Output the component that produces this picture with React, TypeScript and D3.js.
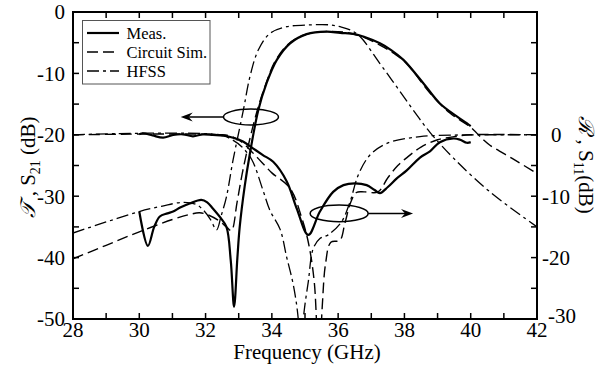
import React from "react";
import * as d3 from "d3";

// ---------- data (frequency GHz, dB) ----------
// Transmission S21 (left axis)
const measS21: [number, number][] = [
  [30.0, -32.5], [30.26, -38.1], [30.45, -35.0], [30.62, -33.3], [30.85, -32.8], [31.02, -32.5],
  [31.25, -31.8], [31.52, -31.2], [31.87, -30.6], [32.05, -31.0], [32.22, -32.0], [32.45, -33.5],
  [32.63, -35.0], [32.76, -40.5], [32.86, -48.0], [32.96, -40.0], [33.03, -35.0], [33.18, -28.4],
  [33.33, -23.3], [33.59, -16.0], [33.84, -11.6], [34.15, -7.8], [34.55, -5.1], [35.05, -3.6],
  [35.65, -3.2], [36.06, -3.4], [36.5, -3.6], [36.76, -4.0], [37.26, -5.1], [37.6, -6.2],
  [37.97, -7.8], [38.57, -11.6], [39.07, -14.9], [39.58, -17.0], [39.88, -18.1], [40.0, -18.6],
];
const circS21: [number, number][] = [
  [28, -40.2], [29, -38.0], [30, -35.8], [31, -33.8], [31.5, -33.0], [31.82, -32.7], [32.1, -33.1],
  [32.43, -34.1], [32.65, -35.1], [32.78, -35.6], [32.95, -31.0], [33.1, -26.5], [33.3, -21.5],
  [33.55, -16.2], [33.8, -12.0], [34.1, -8.0], [34.5, -5.2], [35.0, -3.7], [35.6, -3.2], [36.2, -3.3],
  [36.76, -4.1], [37.26, -5.4], [37.7, -6.8], [38.07, -8.4], [38.77, -13.2], [39.38, -16.5],
  [39.98, -18.7], [40.38, -20.8], [40.58, -21.7], [41.3, -24.0], [42, -26.3],
];
const hfssS21: [number, number][] = [
  [28, -36.0], [29, -34.2], [30, -32.5], [30.7, -31.6], [31.32, -31.0], [31.7, -31.3], [31.92, -32.2],
  [32.15, -33.8], [32.33, -35.5], [32.47, -33.2], [32.63, -30.1], [32.83, -24.1], [33.14, -16.0],
  [33.34, -10.5], [33.59, -6.2], [33.94, -3.5], [34.45, -2.4], [35.15, -2.1], [35.76, -2.1],
  [36.06, -2.4], [36.36, -2.9], [36.66, -4.0], [37.26, -8.4], [37.77, -12.2], [38.27, -16.0],
  [38.77, -19.6], [39.48, -23.8], [40.58, -29.3], [42, -35.0],
];
// Reflection S11 (right axis)
const measS11: [number, number][] = [
  [30.0, 0.1], [30.11, 0.25], [30.4, -0.1], [30.72, -0.47], [31.02, -0.03], [31.32, 0.08],
  [31.62, -0.25], [31.92, 0.08], [32.22, -0.03], [32.53, -0.14], [32.83, -0.47], [33.13, -1.1],
  [33.43, -2.2], [33.73, -3.3], [34.04, -4.4], [34.45, -7.6], [34.75, -12.0], [35.1, -16.3],
  [35.45, -12.5], [35.85, -9.3], [36.16, -8.2], [36.5, -7.9], [36.86, -8.2], [37.1, -9.0],
  [37.26, -9.5], [37.5, -8.5], [37.77, -7.1], [38.07, -5.8], [38.47, -3.7], [38.77, -2.7],
  [39.07, -1.2], [39.48, -0.6], [39.68, -0.8], [39.88, -1.3], [40.0, -1.2],
];
const circS11: [number, number][] = [
  [28, 0], [32.5, 0], [32.8, -0.3], [33.1, -1.2], [33.4, -2.8], [33.7, -4.5], [34.0, -6.2],
  [34.55, -8.7], [34.9, -13.5], [35.1, -17.5], [35.28, -24.0], [35.42, -38.0], [35.52, -28.0],
  [35.62, -21.0], [35.78, -17.5], [36.05, -17.2], [36.2, -14.5], [36.38, -11.0], [36.55, -9.4],
  [36.8, -9.3], [37.2, -9.3], [37.5, -7.0], [37.8, -5.0], [38.1, -3.6], [38.5, -2.0], [39.0, -0.8],
  [39.5, -0.3], [40.0, 0], [42, 0],
];
const hfssS11: [number, number][] = [
  [28, 0], [32.4, 0], [32.8, -0.8], [33.1, -2.0], [33.4, -4.1], [33.73, -9.0], [33.94, -12.3],
  [34.25, -15.4], [34.45, -20.0], [34.65, -24.5], [34.8, -30.2], [34.87, -40.0], [34.95, -30.0],
  [35.1, -23.9], [35.25, -18.5], [35.45, -16.9], [35.7, -16.3], [36.1, -14.2], [36.36, -10.9],
  [36.61, -6.5], [36.96, -3.3], [37.47, -1.4], [38.47, -0.3], [39.5, -0.05], [40, 0], [42, 0],
];

const xTicks = d3.range(28, 42.01, 1);
const xLabels = [28, 30, 32, 34, 36, 38, 40, 42];
const yLeftTicks = d3.range(-50, 0.01, 5);
const yLeftLabels = [0, -10, -20, -30, -40, -50];
const yRightTicks = d3.range(-30, 20.01, 5);
const yRightLabels = [0, -10, -20, -30];
const legendItems = ["Meas.", "Circuit Sim.", "HFSS"];

// annotation ellipses in data units: [f, leftdB, rxGHz, rydB, arrowTipGHz]
const annoS21 = [33.37, -17.1, 0.83, 1.3, 31.25];
const annoS11 = [36.03, -32.8, 0.875, 1.35, 38.26];

const W = 605, H = 367;
const M = { left: 73, right: 537, top: 12, bottom: 319 };
const FONT = "'Liberation Serif', 'Times New Roman', serif";

export default function App() {
  const x = d3.scaleLinear().domain([28, 42]).range([M.left, M.right]);
  const yL = d3.scaleLinear().domain([-50, 0]).range([M.bottom, M.top]);
  const yR = d3.scaleLinear().domain([-30, 20]).range([M.bottom, M.top]);
  const curve = d3.curveCatmullRom.alpha(0.5);
  const lineL = d3.line<[number, number]>().x((d) => x(d[0])).y((d) => yL(d[1])).curve(curve);
  const lineR = d3.line<[number, number]>().x((d) => x(d[0])).y((d) => yR(d[1])).curve(curve);

  const dashed = "11,5";
  const dashDot = "12,4,3,4";
  const styles = [
    { w: 2.2, dash: undefined as string | undefined },
    { w: 1.4, dash: dashed },
    { w: 1.3, dash: dashDot },
  ];

  const anno = (a: number[], dir: number) => {
    const [f, db, rx, ry, tip] = a;
    const cx = x(f), cy = yL(db);
    const rxp = x(f + rx) - x(f);
    const ryp = yL(db - ry) - yL(db);
    const start = cx + dir * rxp;
    const tipX = x(tip);
    return (
      <g>
        <ellipse cx={cx} cy={cy} rx={rxp} ry={ryp} fill="none" stroke="#000" strokeWidth={1.5} />
        <line x1={start} y1={cy} x2={tipX - dir * 8} y2={cy} stroke="#000" strokeWidth={1.5} />
        <path d={`M${tipX},${cy} L${tipX - dir * 12},${cy - 4.5} L${tipX - dir * 8},${cy} L${tipX - dir * 12},${cy + 4.5} Z`} fill="#000" />
      </g>
    );
  };

  const txt = { fontFamily: FONT };

  return (
    <svg width={W} height={H} style={{ position: "absolute", left: 0, top: 0, background: "#fff", fontFamily: FONT }}>
      <defs>
        <clipPath id="plot">
          <rect x={M.left} y={M.top} width={M.right - M.left} height={M.bottom - M.top} />
        </clipPath>
      </defs>
      <rect width={W} height={H} fill="#fff" />

      {/* curves */}
      <g clipPath="url(#plot)" fill="none" stroke="#000" strokeLinejoin="round">
        <path d={lineR(hfssS11) || ""} strokeWidth={styles[2].w} strokeDasharray={styles[2].dash} />
        <path d={lineR(circS11) || ""} strokeWidth={styles[1].w} strokeDasharray={styles[1].dash} />
        <path d={lineR(measS11) || ""} strokeWidth={styles[0].w} />
        <path d={lineL(hfssS21) || ""} strokeWidth={styles[2].w} strokeDasharray={styles[2].dash} />
        <path d={lineL(circS21) || ""} strokeWidth={styles[1].w} strokeDasharray={styles[1].dash} />
        <path d={lineL(measS21) || ""} strokeWidth={styles[0].w} />
      </g>

      {anno(annoS21, -1)}
      {anno(annoS11, 1)}

      {/* frame */}
      <rect x={M.left} y={M.top} width={M.right - M.left} height={M.bottom - M.top} fill="none" stroke="#000" strokeWidth={2} />

      {/* x ticks */}
      {xTicks.map((t) => (
        <g key={"x" + t}>
          <line x1={x(t)} x2={x(t)} y1={M.bottom} y2={M.bottom - 6} stroke="#000" strokeWidth={1.5} />
          <line x1={x(t)} x2={x(t)} y1={M.top} y2={M.top + 6} stroke="#000" strokeWidth={1.5} />
        </g>
      ))}
      {xLabels.map((t) => (
        <text key={"xl" + t} style={txt} x={x(t)} y={337} fontSize={21} textAnchor="middle">{t}</text>
      ))}
      {/* left ticks */}
      {yLeftTicks.map((t) => (
        <line key={"yl" + t} x1={M.left} x2={M.left + 6} y1={yL(t)} y2={yL(t)} stroke="#000" strokeWidth={1.5} />
      ))}
      {yLeftLabels.map((t) => (
        <text key={"yll" + t} style={txt} x={65} y={yL(t)} dy="0.35em" fontSize={21} textAnchor="end">{t}</text>
      ))}
      {/* right ticks */}
      {yRightTicks.map((t) => (
        <line key={"yr" + t} x1={M.right} x2={M.right - 6} y1={yR(t)} y2={yR(t)} stroke="#000" strokeWidth={1.5} />
      ))}
      {yRightLabels.map((t) => (
        <text key={"yrl" + t} style={txt} x={t === 0 ? 551 : t === -30 ? 548 : 542} y={yR(t)} dy={t === -30 ? "0.2em" : "0.35em"} fontSize={21} textAnchor="start">{t}</text>
      ))}

      {/* axis titles */}
      <text style={txt} x={(M.left + M.right) / 2 + 2} y={359} fontSize={21} textAnchor="middle">Frequency (GHz)</text>
      <text style={txt} transform={`translate(35,167) rotate(-90)`} fontSize={21} textAnchor="middle">
        <tspan fontStyle="italic">𝒯</tspan>
        <tspan> , S</tspan>
        <tspan fontSize={14} dy={5}>21</tspan>
        <tspan dy={-5}> (dB)</tspan>
      </text>
      <text style={txt} transform={`translate(579,165) rotate(90)`} fontSize={21} textAnchor="middle">
        <tspan fontStyle="italic">ℛ</tspan>
        <tspan> , S</tspan>
        <tspan fontSize={14} dy={5}>11</tspan>
        <tspan dy={-5}>(dB)</tspan>
      </text>

      {/* legend */}
      <rect x={82.5} y={20.5} width={127.5} height={63.5} fill="#fff" stroke="#555" strokeWidth={1} />
      {legendItems.map((name, i) => {
        const ly = 33 + i * 19;
        return (
          <g key={name}>
            <line x1={87} x2={119} y1={ly} y2={ly} stroke="#000" strokeWidth={styles[i].w} strokeDasharray={styles[i].dash} />
            <text style={txt} x={126.5} y={ly + 5.5} fontSize={16.5}>{name}</text>
          </g>
        );
      })}
    </svg>
  );
}
